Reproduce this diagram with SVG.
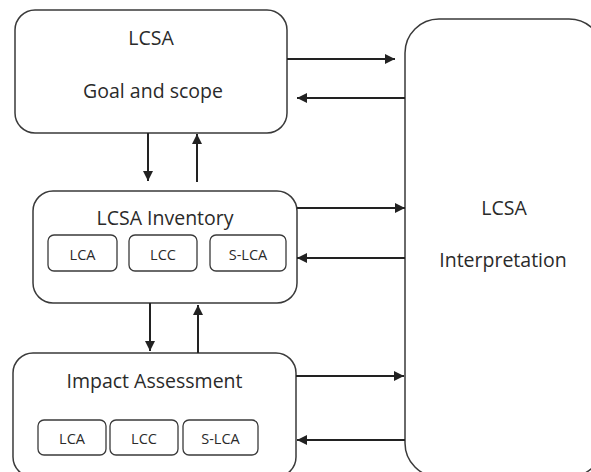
<svg xmlns="http://www.w3.org/2000/svg" width="591" height="472" viewBox="0 0 591 472">
<defs>
<marker id="ah" viewBox="0 0 10 10" refX="10" refY="5" markerWidth="6" markerHeight="5" orient="auto" markerUnits="strokeWidth">
<path d="M0,0 L10,5 L0,10 Z" fill="#222"/>
</marker>
</defs>
<style>
.box{fill:#fff;stroke:#3a3a3a;stroke-width:1.5}
.sub{fill:#fff;stroke:#3a3a3a;stroke-width:1.3}
.t{font-family:"Open Sans","Liberation Sans",sans-serif;font-size:19.5px;fill:#2a2a2a;text-anchor:middle}
.s{font-family:"Open Sans","Liberation Sans",sans-serif;font-size:14.5px;fill:#2a2a2a;text-anchor:middle}
.c{stroke:#222;stroke-width:2;fill:none;marker-end:url(#ah)}
</style>
<rect width="591" height="472" fill="#fff"/>
<g id="interpretation">
<rect class="box" x="405" y="19" width="198" height="458" rx="34"/>
<text class="t" x="504" y="215">LCSA</text>
<text class="t" x="503" y="267">Interpretation</text>
</g>
<g id="goal">
<rect class="box" x="15" y="10" width="272" height="123" rx="20"/>
<text class="t" x="151" y="45">LCSA</text>
<text class="t" x="153" y="98">Goal and scope</text>
</g>
<g id="inventory">
<rect class="box" x="33" y="191" width="264" height="112" rx="20"/>
<text class="t" x="165" y="225">LCSA Inventory</text>
<rect class="sub" x="48" y="235" width="69" height="36" rx="6"/>
<text class="s" x="82.5" y="260">LCA</text>
<rect class="sub" x="129" y="235" width="68" height="36" rx="6"/>
<text class="s" x="163" y="260">LCC</text>
<rect class="sub" x="210" y="235" width="76" height="36" rx="6"/>
<text class="s" x="248" y="260">S-LCA</text>
</g>
<g id="impact">
<rect class="box" x="13" y="353" width="283" height="124" rx="20"/>
<text class="t" x="154.5" y="388">Impact Assessment</text>
<rect class="sub" x="38" y="420" width="68" height="35" rx="6"/>
<text class="s" x="72" y="444">LCA</text>
<rect class="sub" x="110" y="420" width="68" height="35" rx="6"/>
<text class="s" x="144" y="444">LCC</text>
<rect class="sub" x="183" y="420" width="75" height="35" rx="6"/>
<text class="s" x="220.5" y="444">S-LCA</text>
</g>
<g id="connectors">
<line class="c" x1="148" y1="133" x2="148" y2="181"/>
<line class="c" x1="197" y1="182" x2="197" y2="134"/>
<line class="c" x1="150" y1="303" x2="150" y2="351"/>
<line class="c" x1="198" y1="353" x2="198" y2="305"/>
<line class="c" x1="287" y1="59" x2="395" y2="59"/>
<line class="c" x1="405" y1="98" x2="297" y2="98"/>
<line class="c" x1="297" y1="208" x2="405" y2="208"/>
<line class="c" x1="405" y1="258" x2="297" y2="258"/>
<line class="c" x1="296" y1="376" x2="404" y2="376"/>
<line class="c" x1="405" y1="440" x2="297" y2="440"/>
</g>
</svg>
